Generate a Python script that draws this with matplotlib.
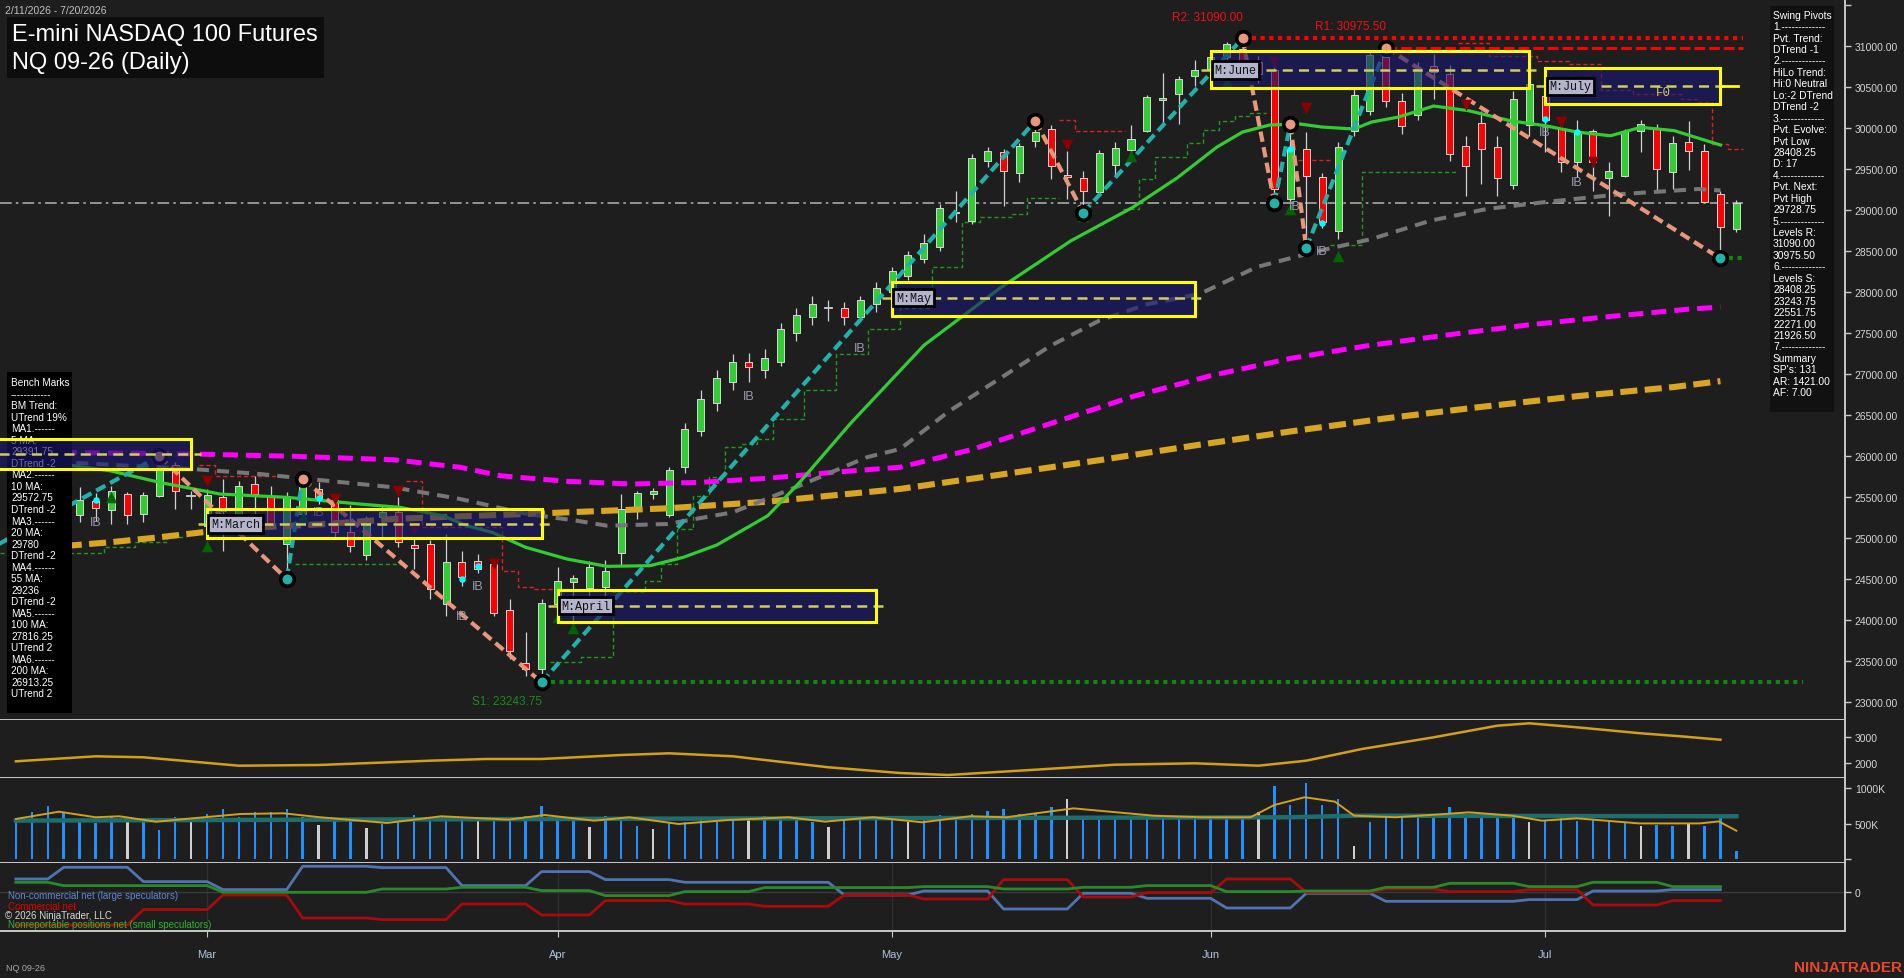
import numpy as np
import pandas as pd
import matplotlib
matplotlib.use("Agg")
import matplotlib.pyplot as plt
from matplotlib.patches import Rectangle

plt.rcParams['font.family'] = ['Liberation Sans', 'DejaVu Sans']

# ---------------- data ----------------
holidays = ["2026-02-16", "2026-04-03", "2026-05-25", "2026-06-19", "2026-07-03"]
days = pd.bdate_range("2026-02-11", "2026-07-20")
days = days[~days.isin(pd.to_datetime(holidays))]

opens = [25350, 25450, 25380, 25300, 25280, 25450, 25340, 25540, 25290, 25520,
         25890, 25520, 25150, 25500, 25200, 25660, 25520, 24930, 25300, 25600,
         25460, 25070, 24790, 25260, 25320, 24920, 24930, 24200, 24710, 24720,
         24690, 24120, 23480, 23410, 24200, 24470, 24390, 24400, 24820, 25340,
         25540, 25285, 25865, 26300, 26650, 26900, 27150, 27050, 27150, 27500,
         27700, 27800, 27800, 27700, 27850, 28000, 28200, 28400, 28548, 28960,
         28860, 29590, 29700, 29450, 29840, 29980, 29430, 29390, 29220, 29550,
         29730, 29960, 30340, 30410, 30630, 30716, 30858, 30960, 30800, 30700,
         29130, 29740, 29400, 28740, 29965, 30200, 30860, 30330, 30150, 30756,
         30650, 29780, 30060, 29760, 29300, 30030, 30390, 29985, 29580, 29965,
         29384, 29416, 29965, 29985, 29457, 29823, 29720, 29193, 28770]
highs = [25520, 25600, 25500, 25450, 25620, 25550, 25640, 25560, 25560, 26000,
         25930, 25580, 25600, 25720, 25700, 25760, 25640, 25560, 25725, 25690,
         25520, 25400, 25270, 25400, 25500, 24990, 24980, 25050, 24840, 24810,
         24700, 24260, 23860, 24260, 24650, 24550, 24725, 24730, 25540, 25570,
         25610, 25870, 26400, 26800, 27050, 27250, 27260, 27300, 27620, 27800,
         27950, 27900, 27880, 27950, 28120, 28300, 28500, 28700, 29070, 29230,
         29680, 29760, 29740, 29820, 30086, 30030, 29720, 29470, 29730, 29830,
         30030, 30400, 30670, 30635, 30830, 30900, 31049, 31090, 30880, 30800,
         30045, 29950, 29450, 29830, 30500, 30950, 30975.5, 30420, 30800, 30900,
         30760, 29900, 30200, 29900, 30450, 30600, 30500, 30100, 30100, 29985,
         29580, 29990, 30090, 30046, 29900, 30080, 29800, 29233, 29115]
lows = [25250, 25300, 25200, 25150, 25200, 25210, 25170, 25170, 25200, 25500,
        25360, 25360, 25080, 24850, 25110, 25170, 25110, 24500, 25280, 25420,
        25010, 24830, 24740, 25010, 24890, 24620, 24260, 24050, 24420, 24580,
        24050, 23530, 23325, 23243.75, 24055, 23980, 24300, 24180, 24660, 25230,
        25480, 25260, 25800, 26250, 26550, 26800, 26900, 26950, 27100, 27400,
        27600, 27650, 27600, 27650, 27750, 27950, 28150, 28350, 28500, 28850,
        28830, 29520, 29050, 29340, 29760, 29380, 29130, 28966, 29200, 29415,
        29660, 29950, 30060, 30045, 30510, 30575, 30737, 30760, 30550, 29083,
        29090, 28535, 28780, 28650, 29900, 30150, 30250, 29925, 30100, 30350,
        29600, 29170, 29315, 29170, 29250, 29900, 29700, 29460, 29400, 29230,
        28930, 29400, 29700, 29240, 29250, 29480, 29092, 28408.25, 28730]
closes = [25450, 25380, 25300, 25400, 25460, 25370, 25570, 25280, 25530, 25840,
          25580, 25530, 25530, 25335, 25640, 25540, 25170, 25500, 25650, 25480,
          25070, 24910, 25210, 25320, 24950, 24880, 24380, 24710, 24530, 24620,
          24090, 23630, 23410, 24210, 24480, 24515, 24650, 24600, 25360, 25555,
          25575, 25835, 26330, 26700, 26950, 27150, 27080, 27200, 27550, 27720,
          27850, 27810, 27700, 27900, 28050, 28250, 28450, 28600, 29020, 28980,
          29630, 29720, 29470, 29780, 29950, 29530, 29400, 29230, 29690, 29750,
          29860, 30370, 30360, 30600, 30700, 30860, 31020, 30800, 30650, 29250,
          29740, 29410, 28850, 29765, 30400, 30890, 30330, 30025, 30716, 30676,
          29680, 29540, 29740, 29390, 30350, 30530, 30090, 29580, 29945, 29580,
          29477, 29965, 30046, 29500, 29815, 29713, 29092, 28788, 29083]

# moving averages, read at sparse bar positions
ma20_idx = [0, 2.8, 5.9, 9.0, 12.8, 17.0, 21.6, 24.1, 26.8, 28.3, 29.9, 32.0, 34.6, 37.1,
            39.8, 41.9, 44.0, 47.2, 49.2, 52.4, 57, 61.8, 66.2, 70.1, 72.9, 75.4, 77.0,
            78.7, 80.6, 82, 84, 85.1, 86.8, 89, 91.2, 93.8, 96, 98, 100.1, 102, 104.1, 107]
ma20_val = [25950, 25904, 25822, 25681, 25538, 25498, 25416, 25376, 25274, 25152, 25071,
            24889, 24746, 24657, 24665, 24767, 24917, 25274, 25680, 26400, 27350, 28050,
            28620, 29030, 29390, 29766, 29948, 30034, 30046, 30009, 29985, 30070, 30131,
            30265, 30208, 30086, 30025, 29948, 29903, 30006, 29965, 29790]
ma55_idx = [0, 2.8, 7.0, 11.1, 15.3, 19.5, 23.7, 27.9, 32.1, 35.2, 37.1, 40.9, 45.0, 49.2,
            53.4, 55.5, 58.6, 61.8, 65, 68, 71, 74.3, 77.9, 81.5, 85.1, 88.8, 92.3, 96,
            100.8, 105.6, 107]
ma55_val = [25950, 25928, 25883, 25843, 25782, 25700, 25620, 25477, 25295, 25213, 25152,
            25173, 25315, 25640, 25985, 26086, 26550, 26950, 27350, 27650, 27850, 27975,
            28304, 28487, 28645, 28868, 29010, 29095, 29192, 29254, 29236]
ma100_idx = [0, 11.1, 17.4, 23.7, 27.9, 30.4, 34.6, 38.7, 42.9, 47.2, 51.3, 55.5, 60, 65,
             70, 75, 80, 85, 90, 95, 100, 105, 107]
ma100_val = [26050, 26026, 25998, 25956, 25864, 25761, 25693, 25660, 25680, 25730, 25803,
             25864, 26080, 26400, 26720, 26980, 27190, 27350, 27480, 27600, 27700, 27790,
             27816]
ma200_idx = [0, 2.8, 5.9, 9.0, 11.7, 15.3, 19.5, 23.7, 27.9, 32.1, 34.6, 40.9, 47.2, 55.5,
             62, 68, 74, 80, 86, 92, 98, 104, 107]
ma200_val = [24870, 24901, 24950, 25011, 25072, 25133, 25173, 25234, 25267, 25295, 25315,
             25364, 25445, 25600, 25780, 25950, 26130, 26300, 26460, 26600, 26730, 26840,
             26913]

# swing pivots (bar, price)
piv_idx = [-2, 9, 17, 18, 33, 64, 67, 77, 79, 80, 81, 86, 107]
piv_px = [24830, 26000, 24503, 25725, 23243.75, 30086, 28966, 31090, 29083, 30045,
          28535, 30975.5, 28408.25]

# monthly range boxes
box_name = ["", "M:March", "M:April", "M:May", "M:June", "M:July"]
box_start = [-5, 12, 34, 55, 75, 96]
box_end = [11, 33, 54, 74, 95, 107]
box_hi = [26208, 25356, 24373, 28121, 30932, 30728]
box_lo = [25843, 25000, 23983, 27706, 30481, 30286]
box_mid = [26025, 25173, 24177, 27930, 30704, 30505]

# trailing stop steps (bar, level)
stops_green = [
    [(-1, 24823), (5.5, 24889), (7.5, 24950), (9.5, 25011), (10.7, 25011)],
    [(17.5, 24685), (24.3, 24685)],
    [(33.5, 23495), (35.5, 23549), (37.5, 24341), (39.5, 24475), (40.5, 24685),
     (41.5, 25112), (42.5, 25518), (43.5, 25742), (44.5, 26107), (45.5, 26147),
     (46.5, 26208), (47.5, 26450), (49.5, 26800), (51.5, 27250), (53.5, 27550),
     (55.5, 27800), (57.5, 28300), (59.4, 28848), (60.5, 28910), (62.5, 28950),
     (63.5, 29145), (65.5, 29145)],
    [(69.5, 29010), (70.5, 29376), (71.5, 29640), (73.5, 29815), (74.5, 29977),
     (75.5, 30079), (76.5, 30147), (77.5, 30180), (78.5, 30180)],
    [(82.5, 28576), (84.5, 29465), (90.5, 29465)],
]
stops_red = [
    [(11.5, 25892), (12.5, 25762), (16.5, 25762)],
    [(24.5, 25700), (25.5, 25133), (30.5, 24604), (31.5, 24401), (32.5, 24381), (33.7, 24381)],
    [(65.5, 30095), (66.5, 29957), (69.6, 29957)],
    [(80.5, 29607), (82.5, 29607)],
    [(90.5, 31029), (92.5, 30878), (95.5, 30817), (97.5, 30777), (99.5, 30464),
     (101.5, 30412), (104.5, 30351), (105.5, 30310), (106.5, 29804), (107.5, 29741),
     (108.4, 29741)],
]

tri_dn_idx = [0, 12, 20, 24, 25, 30, 66, 79, 81, 91, 97, 99]
tri_dn_px = [26046, 25697, 25477, 25580, 25112, 24680, 29794, 30807, 30241, 30277, 30076, 29589]
tri_up_idx = [6, 12, 18, 34, 35, 67, 70, 76, 80, 83]
tri_up_px = [25498, 24909, 25255, 24036, 23902, 28930, 29660, 30554, 29010, 28442]
ib_idx = [5, 19, 29, 28, 46, 53, 80.3, 82, 96, 98]
ib_px = [25196, 25318, 24417, 24051, 26734, 27323, 29047, 28500, 29949, 29340]
dot_idx = [5, 19, 28, 29, 80, 82, 96, 98]
dot_px = [25465, 25490, 24503, 24658, 29740, 28840, 30107, 29945]

last_price = 29083
r2, r1, s1 = 31090.0, 30975.5, 23243.75

atr_idx = [0, 5, 8, 14, 19, 26, 29.5, 33, 38, 41, 45, 51, 55.5, 58.5, 64, 69, 74, 78, 81,
           84.5, 89, 93, 95, 98, 102, 104.5, 107]
atr_val = [2075, 2263, 2226, 1910, 1936, 2098, 2162, 2162, 2312, 2376, 2263, 1850, 1635,
           1560, 1760, 1947, 2000, 1910, 2098, 2538, 2977, 3414, 3504, 3353, 3128, 3015, 2887]

volume_k = [528, 669, 754, 669, 519, 505, 589, 589, 566, 410,
            589, 528, 636, 707, 589, 669, 669, 707, 589, 481,
            566, 575, 438, 495, 566, 622, 575, 613, 589, 556,
            589, 556, 613, 754, 566, 556, 448, 603, 566, 471,
            424, 509, 519, 566, 528, 556, 566, 603, 566, 589,
            519, 448, 589, 613, 603, 575, 528, 575, 622, 575,
            636, 683, 707, 636, 636, 731, 849, 613, 603, 599,
            599, 575, 575, 566, 589, 589, 589, 566, 660, 1037,
            764, 1075, 764, 849, 189, 519, 589, 613, 589, 613,
            731, 636, 636, 589, 613, 519, 556, 636, 542, 556,
            556, 519, 471, 481, 471, 495, 471, 580, 118]
vol_gray = [7, 11, 19, 22, 29, 36, 40, 46, 51, 56, 66, 78, 84, 95, 102, 105]
vavg_idx = [0, 2.7, 5, 6.5, 8.8, 11.8, 14.1, 16.8, 19.1, 23.3, 26.7, 30.9, 33.2, 36.3, 38.5,
            41.6, 44.7, 48.5, 50.8, 53.8, 56.9, 59.9, 62.2, 63.7, 66.4, 69.1, 71.4, 74.4,
            77.5, 79, 80.9, 82.8, 84, 86.6, 89.7, 91.2, 93.9, 95.8, 98, 101.9, 105.7, 106.9, 108]
vavg_val = [566, 669, 590, 604, 527, 590, 636, 646, 590, 509, 604, 557, 622, 542, 590,
            495, 551, 590, 528, 590, 519, 604, 590, 636, 716, 660, 613, 590, 590, 764,
            873, 811, 613, 590, 636, 660, 613, 542, 575, 503, 503, 531, 400]
vlong_idx = [0, 40, 80, 84, 108]
vlong_val = [543, 570, 590, 612, 604]

# weekly COT net positions
cot_week_start = [0, 3, 8, 13, 18, 23, 28, 33, 37, 42, 47, 52, 57, 62, 67, 71, 76, 81, 86, 90, 95, 99, 104]
cot_large = [13.3, 25, 10.7, 2.7, 26, 24.7, 6.7, 20.7, 12.7, 10, 10, -2.7, 1.3, -16.7, -1,
             -6, -15.7, -1, -9, -9, -7.3, 1.3, 2.7]
cot_comm = [-32.7, -32.7, -17.3, -2.7, -25.7, -27.3, -11.7, -22.7, -8.3, -11.7, -14, -2.7,
            -6.7, 12.7, -4.7, -0.3, 13.3, 0, 3.3, 0.7, 2.7, -12.7, -8.3]
cot_small = [10, 6.7, 6.7, 0, 0, 3.3, 5, 1.7, -3.3, 0.7, 4.7, 4.7, 5.7, 3.3, 5, 6.7, 0.7,
             1.3, 5, 9, 5.7, 10, 5.7]

bench_lines = ["Bench Marks", "------------", "BM Trend:", "UTrend 19%", "MA1.------", "5 MA:",
               "29391.75", "DTrend -2", "MA2.------", "10 MA:", "29572.75", "DTrend -2",
               "MA3.------", "20 MA:", "29780", "DTrend -2", "MA4.------", "55 MA:", "29236",
               "DTrend -2", "MA5.------", "100 MA:", "27816.25", "UTrend 2", "MA6.------",
               "200 MA:", "26913.25", "UTrend 2"]
swing_lines = ["Swing Pivots", "1.-------------", "Pvt. Trend:", "DTrend -1", "2.-------------",
               "HiLo Trend:", "Hi:0 Neutral", "Lo:-2 DTrend", "DTrend -2", "3.-------------",
               "Pvt. Evolve:", "Pvt Low", "28408.25", "D: 17", "4.-------------", "Pvt. Next:",
               "Pvt High", "29728.75", "5.-------------", "Levels R:", "31090.00", "30975.50",
               "6.-------------", "Levels S:", "28408.25", "23243.75", "22551.75", "22271.00",
               "21926.50", "7.-------------", "Summary", "SP's: 131", "AR: 1421.00", "AF: 7.00"]

# ---------------- figure ----------------
W, H = 1904, 979
BG = '#1e1e1e'
AXC = '#c8c8c8'
TXT = '#d4d4d4'
PLOT_R = 1845
XMIN, XMAX = -15.9 / 15.93, (PLOT_R - 15.9) / 15.93

fig = plt.figure(figsize=(W / 100, H / 100), dpi=100, facecolor=BG)


def fxy(x, y):
    return x / W, 1 - y / H


def panel(top, bottom):
    ax = fig.add_axes([0, 1 - bottom / H, PLOT_R / W, (bottom - top) / H])
    ax.set_facecolor(BG)
    for s in ax.spines.values():
        s.set_visible(False)
    for side in ('right', 'bottom'):
        ax.spines[side].set_visible(True)
        ax.spines[side].set_color(AXC)
        ax.spines[side].set_linewidth(1.4)
    ax.yaxis.tick_right()
    ax.tick_params(axis='y', colors=AXC, labelcolor=TXT, labelsize=7.5, length=4,
                   width=1, direction='out', pad=3)
    ax.tick_params(axis='x', bottom=False, labelbottom=False)
    ax.set_xlim(XMIN, XMAX)
    return ax


ax = panel(0, 721)
ax2 = panel(721, 779.3)
ax3 = panel(779.3, 864.3)
ax4 = panel(864.3, 931.7)

n = len(opens)
idx = np.arange(n)

# ---- main price panel ----
ax.set_ylim(22785, 31569)
yt = np.arange(23000, 31501, 500)
ax.set_yticks(yt)
ax.set_yticklabels([f"{v:.2f}" if v < 31500 else "" for v in yt])

for i in range(n):
    o, h, l, c = opens[i], highs[i], lows[i], closes[i]
    ax.plot([i, i], [l, h], color='#d0d0d0', lw=0.9, zorder=3, solid_capstyle='butt')
    lo_b, hi_b = min(o, c), max(o, c)
    if hi_b - lo_b < 15:
        ax.plot([i - 0.23, i + 0.23], [o, o], color='#d0d0d0', lw=1.3, zorder=3.1)
    else:
        col = '#32cd32' if c >= o else '#ff0000'
        ax.add_patch(Rectangle((i - 0.22, lo_b), 0.44, hi_b - lo_b, facecolor=col,
                               edgecolor='#d8d8d8', lw=0.7, zorder=3.1))

# trailing stops
for seg in stops_green:
    xs, ys = zip(*seg)
    ax.step(xs, ys, where='post', color='#1f9a1f', lw=1, ls=(0, (3, 2)), zorder=2.5)
for seg in stops_red:
    xs, ys = zip(*seg)
    ax.step(xs, ys, where='post', color='#e02020', lw=1, ls=(0, (3, 2)), zorder=2.5)

# moving averages
ax.plot(ma200_idx, ma200_val, color='#daa520', lw=4.4, dashes=(2.8, 1.2), zorder=4)
ax.plot(ma100_idx, ma100_val, color='#ff00ff', lw=3.6, dashes=(3, 1.6), zorder=4.1)
ax.plot(ma55_idx, ma55_val, color='#777777', lw=2.9, dashes=(3, 2), zorder=4.2)
ax.plot(ma20_idx, ma20_val, color='#32cd32', lw=2.3, zorder=4.3)

# current price line
ax.plot([XMIN, 108.4], [last_price, last_price], color='#a8a8a8', lw=1.2,
        ls=(0, (7, 2.5, 1.5, 2.5)), zorder=2.6)

# support / resistance
ax.plot([77, 108.4], [r2, r2], color='#ff0000', lw=3, ls=(0, (1, 1.1)), zorder=4.5)
ax.plot([86, 108.4], [r1, r1], color='#ff0000', lw=2.2, dashes=(3.5, 1.3), zorder=4.5)
ax.plot([33, 112.2], [s1, s1], color='#0a8a0a', lw=3, ls=(0, (1, 1.1)), zorder=4.5)
ax.plot([107, 108.4], [28408.25, 28408.25], color='#0a8a0a', lw=3, ls=(0, (1, 1.1)), zorder=4.5)
ax.text(77, 31350, "R2: 31090.00", color='#ee1111', fontsize=8.5, ha='right', va='center', zorder=6)
ax.text(86, 31234, "R1: 30975.50", color='#ee1111', fontsize=8.5, ha='right', va='center', zorder=6)
ax.text(33, 23017, "S1: 23243.75", color='#1a8a1a', fontsize=8.5, ha='right', va='center', zorder=6)

# zigzag
for k in range(len(piv_idx) - 1):
    up = piv_px[k + 1] > piv_px[k]
    ax.plot(piv_idx[k:k + 2], piv_px[k:k + 2], color='#20b2aa' if up else '#e9967a',
            lw=3, dashes=(2.5, 1.3), zorder=5, solid_capstyle='butt')

# markers
ax.scatter(tri_dn_idx, tri_dn_px, marker='v', s=70, color='#8b0000', zorder=5.2, linewidths=0)
ax.scatter(tri_up_idx, tri_up_px, marker='^', s=70, color='#006400', zorder=5.2, linewidths=0)
ax.scatter(dot_idx, dot_px, s=22, color='#00ffff', zorder=5.3, linewidths=0)
for xi, pi in zip(ib_idx, ib_px):
    ax.text(xi, pi, "IB", color='#9a9aae', fontsize=9, ha='center', va='center', zorder=5.3)

for k in range(1, len(piv_idx)):
    is_low = piv_px[k] < piv_px[k - 1]
    ax.scatter([piv_idx[k]], [piv_px[k]], s=95, color='#20b2aa' if is_low else '#e9967a',
               edgecolors='black', linewidths=2.6, zorder=6)

# benchmark and swing boxes (drawn in figure pixels)
ax.add_patch(Rectangle(fxy(7, 714), 65 / W, 341 / H, transform=fig.transFigure,
                       facecolor='black', edgecolor='none', zorder=7))
for k, line in enumerate(bench_lines):
    ax.text(*fxy(11, 383.3 + 11.52 * k), line, transform=fig.transFigure, color='white',
            fontsize=7.2, va='center', ha='left', zorder=7.5)
ax.add_patch(Rectangle(fxy(1770, 413), 64 / W, 406 / H, transform=fig.transFigure,
                       facecolor='#111111', edgecolor='none', zorder=7))
for k, line in enumerate(swing_lines):
    ax.text(*fxy(1773, 15.7 + 11.44 * k), line, transform=fig.transFigure, color='white',
            fontsize=7.4, va='center', ha='left', zorder=7.5)

# monthly boxes
for k in range(len(box_name)):
    x0, x1 = box_start[k], box_end[k]
    ax.add_patch(Rectangle((x0, box_lo[k]), x1 - x0, box_hi[k] - box_lo[k],
                           facecolor='#191970', alpha=0.62, edgecolor='none', zorder=8))
    ax.add_patch(Rectangle((x0, box_lo[k]), x1 - x0, box_hi[k] - box_lo[k],
                           facecolor='none', edgecolor='#ffff00', lw=2.2, zorder=8.2))
    ax.plot([x0 - 0.6, x1 + 0.6], [box_mid[k]] * 2, color='#cdcd5c', lw=1.8,
            dashes=(4, 2.5), zorder=8.1)
    if box_name[k]:
        ax.text(x0 + 0.25, box_mid[k], box_name[k], family='Liberation Mono', fontsize=8.5,
                color='#101010', ha='left', va='center', zorder=8.5,
                bbox=dict(boxstyle='square,pad=0.22', fc='#b4b4cc', ec='black', lw=2))
ax.plot([107, 108.1], [box_mid[5]] * 2, color='#ffff00', lw=2, zorder=8.1)
ax.text(103.4, 30440, "F0", family='Liberation Mono', fontsize=9, color='#c8c860',
        ha='center', va='center', zorder=8.5)

# ---- ATR-type panel ----
ax2.set_ylim(1436, 3628)
ax2.set_yticks([2000, 3000])
ax2.plot(atr_idx, atr_val, color='#d4a017', lw=1.8)

# ---- volume panel ----
ax3.set_ylim(-61, 1141)
ax3.set_yticks([0, 500, 1000])
ax3.set_yticklabels(['', '500K', '1000K'])
vcol = ['#cfcfcf' if i in vol_gray else '#1e90ff' for i in range(n)]
ax3.bar(idx, volume_k, width=0.15, color=vcol, zorder=2)
ax3.plot(vlong_idx, vlong_val, color='#1f6e6e', lw=3.2, zorder=3)
ax3.plot(vavg_idx, vavg_val, color='#d4a017', lw=1.4, zorder=4)

# ---- COT panel ----
ax4.set_ylim(-38.4, 29)
ax4.set_yticks([0])
ax4.set_yticklabels(['0'])
month_pos = [i for i in range(1, n) if days[i].month != days[i - 1].month]
for m in month_pos:
    ax4.axvline(m, color='#2e2e2e', lw=1, zorder=1)
ax4.axhline(0, color='#3a3a3a', lw=1, zorder=1)
lengths = np.diff(cot_week_start + [108])
ax4.plot(np.arange(108), np.repeat(cot_large, lengths), color='#4f74b4', lw=2, zorder=3)
ax4.plot(np.arange(108), np.repeat(cot_comm, lengths), color='#aa0a0a', lw=2, zorder=3)
ax4.plot(np.arange(108), np.repeat(cot_small, lengths), color='#2a8a2a', lw=2, zorder=3)
ax4.set_xticks(month_pos)
ax4.set_xticklabels([days[m].strftime('%b') for m in month_pos])
ax4.tick_params(axis='x', bottom=True, labelbottom=True, colors=AXC, labelcolor='#b0c4de',
                labelsize=8, length=4, direction='out', pad=9)

fig.text(*fxy(8, 896.5), "Non-commercial net (large speculators)", color='#5b87d6', fontsize=7, va='center')
fig.text(*fxy(8, 907), "Commercial net", color='#e00000', fontsize=7, va='center')
fig.text(*fxy(5, 916.5), "\u00a9 2026 NinjaTrader, LLC", color='#d8d8d8', fontsize=7, va='center')
fig.text(*fxy(8, 925.5), "Nonreportable positions net (small speculators)", color='#2db52d', fontsize=7, va='center')

# ---- titles and labels ----
fig.add_artist(Rectangle(fxy(7, 79), 317 / W, 61 / H, transform=fig.transFigure,
                         facecolor='#0d0d0d', edgecolor='none', zorder=2))
fig.text(*fxy(12, 35), "E-mini NASDAQ 100 Futures", color='white', fontsize=17, va='center', zorder=3)
fig.text(*fxy(12, 63), "NQ 09-26 (Daily)", color='white', fontsize=17, va='center', zorder=3)
fig.text(*fxy(5, 11.5), "2/11/2026 - 7/20/2026", color='#c0c0c0', fontsize=7.5, va='center')
fig.text(*fxy(6, 969), "NQ 09-26", color='#a8a8a8', fontsize=6.5, va='center')
fig.text(*fxy(1902, 968), "NINJATRADER", color='#e8472a', fontsize=11, fontweight='bold',
         ha='right', va='center')

fig.savefig('out.png', dpi=100, facecolor=BG)
